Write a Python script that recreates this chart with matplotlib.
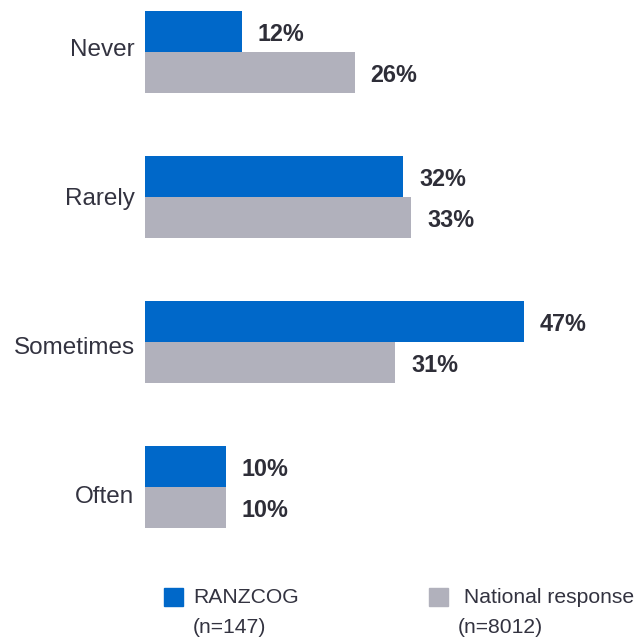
import matplotlib.pyplot as plt
from matplotlib.patches import Rectangle

plt.rcParams['font.family'] = ['Liberation Sans', 'DejaVu Sans']

categories = ['Never', 'Rarely', 'Sometimes', 'Often']
ranzcog = [12, 32, 47, 10]
national = [26, 33, 31, 10]
series_names = ['RANZCOG', ' National response']
series_notes = ['(n=147)', '(n=8012)']
colors = ['#0068C9', '#B1B1BC']

W, H = 640, 641
fig = plt.figure(figsize=(W / 100, H / 100), dpi=100)
ax = fig.add_axes([145 / W, (H - 560) / H, 484 / W, 560 / H])

bar_h = 0.283
pos = list(range(len(categories)))
y_blue = [p - bar_h / 2 for p in pos]
y_grey = [p + bar_h / 2 for p in pos]

b1 = ax.barh(y_blue, ranzcog, height=bar_h, color=colors[0])
b2 = ax.barh(y_grey, national, height=bar_h, color=colors[1])

for bars, vals in [(b1, ranzcog), (b2, national)]:
    for rect, v in zip(bars, vals):
        ax.annotate(f'{v}%', (rect.get_width(), rect.get_y() + rect.get_height() / 2),
                    xytext=(11.5, -2), textcoords='offset points',
                    ha='left', va='center', fontsize=16.8, fontweight='bold',
                    color='#2E2E38', annotation_clip=False)

ax.set_xlim(0, 60)
ax.set_ylim(3.503, -52 / 145)
# category labels sit on a slightly wider spacing than the bar groups
ax.set_yticks([(p * 149 - 5) / 145 for p in pos])
ax.set_yticklabels(categories, fontsize=17.5, color='#333340')
ax.tick_params(axis='y', length=0, pad=7.5)
ax.set_xticks([])
for s in ax.spines.values():
    s.set_visible(False)

# legend drawn by hand below the plot
leg_x = [164, 429]
txt_x = [193, 458]
for i in range(2):
    fig.patches.append(Rectangle((leg_x[i] / W, (H - 606) / H), 19 / W, 18 / H,
                                 transform=fig.transFigure, color=colors[i]))
    fig.text(txt_x[i] / W, (H - 603) / H, series_names[i], fontsize=15.2,
             color='#333340', va='baseline', ha='left')
    fig.text(txt_x[i] / W, (H - 633) / H, series_notes[i], fontsize=15.2,
             color='#333340', va='baseline', ha='left')

fig.savefig('out.png', dpi=100)
